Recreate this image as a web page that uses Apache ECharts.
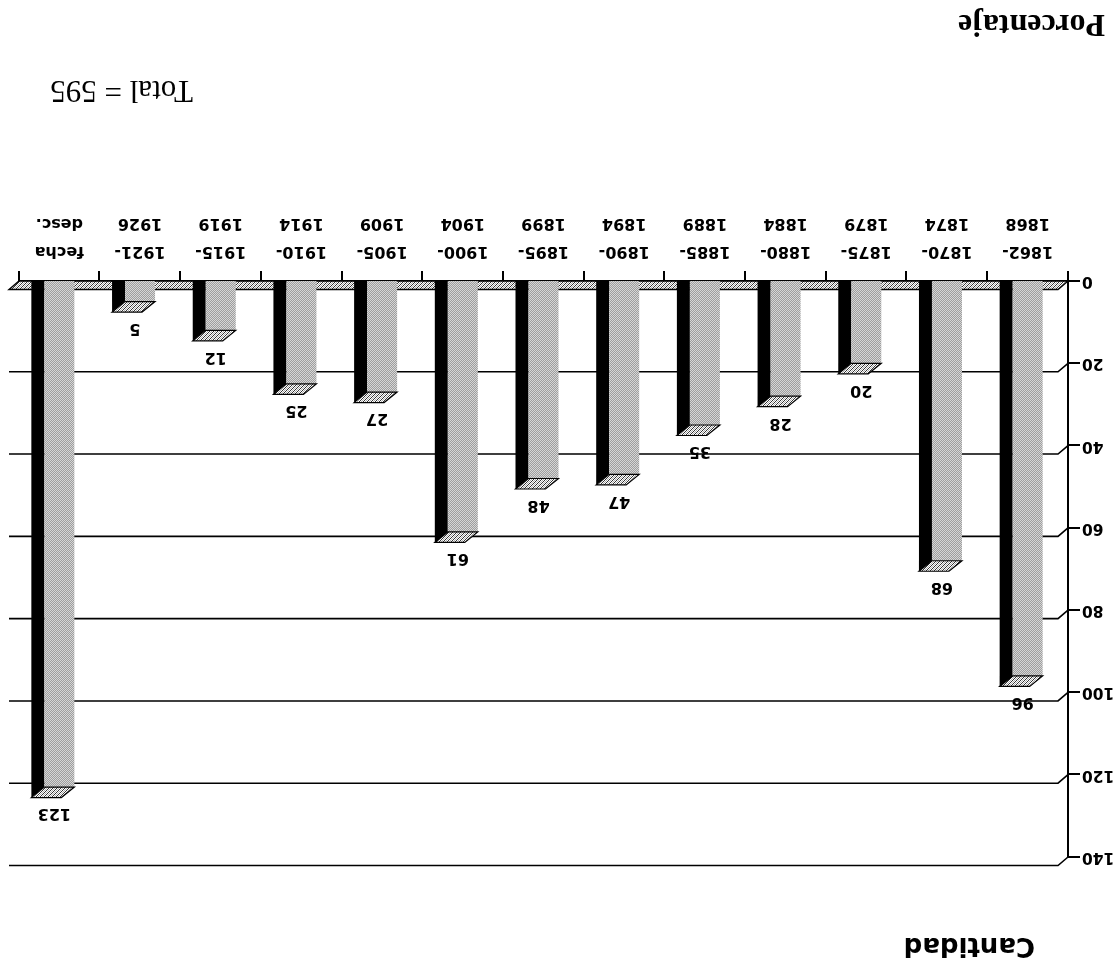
<!DOCTYPE html>
<html><head><meta charset="utf-8">
<script src="https://cdn.jsdelivr.net/npm/echarts@6/dist/echarts.min.js"></script>
<style>html,body{margin:0;padding:0;background:#fff}#c{width:1120px;height:970px;transform:rotate(180deg);}</style>
</head><body><div id="c"></div>
<script>
const categories = ['1862-\n1868','1870-\n1874','1875-\n1879','1880-\n1884','1885-\n1889','1890-\n1894','1895-\n1899','1900-\n1904','1905-\n1909','1910-\n1914','1915-\n1919','1921-\n1926','fecha\ndesc.'];
const values = [96,68,20,28,35,47,48,61,27,25,12,5,123];
const yTicks = [0,20,40,60,80,100,120,140];
const axisTitle = 'Cantidad';
const cornerTitle = 'Porcentaje';
const totalText = 'Total = 595';

function makePattern(size, fn){
  const c=document.createElement('canvas'); c.width=c.height=size;
  const ctx=c.getContext('2d');
  for(let y=0;y<size;y++)for(let x=0;x<size;x++){ctx.fillStyle=fn(x,y);ctx.fillRect(x,y,1,1);}
  return {image:c, repeat:'repeat'};
}
const frontFill = makePattern(2,(x,y)=>((x+y)%2===0)?'#d6d6d6':'#9e9e9e');
const topFill = makePattern(4,(x,y)=>((x+y)%4===0)?'#333':(((x+y)%4===2)?'#aaa':'#fff'));

const GDX=10, GDY=8.5, BDX=13, BDY=10.5, HW=15;
const chart = echarts.init(document.getElementById('c'), null, {renderer:'canvas'});
chart.setOption({
  backgroundColor:'#fff',
  animation:false,
  grid:{left:52,right:19,top:113,bottom:281,containLabel:false,outerBoundsMode:'none'},
  xAxis:{type:'category',data:categories,boundaryGap:true,
    axisLine:{show:true,lineStyle:{color:'#000',width:2}},
    axisTick:{show:true,length:10,interval:0,lineStyle:{color:'#000',width:2}},
    axisLabel:{interval:0,margin:16,lineHeight:28,color:'#000',fontFamily:'DejaVu Sans',fontWeight:'bold',fontSize:16,hideOverlap:false},
    splitLine:{show:false}},
  yAxis:{type:'value',min:0,max:140,interval:20,
    axisLine:{show:true,lineStyle:{color:'#000',width:2}},
    axisTick:{show:true,length:12,lineStyle:{color:'#000',width:2}},
    axisLabel:{show:false},
    splitLine:{show:false}},
  graphic:[
    {type:'text',x:85,y:25,style:{text:axisTitle,font:'bold 26px "DejaVu Sans"',fill:'#000',align:'left',verticalAlign:'middle'}},
    {type:'text',x:15,y:947,style:{text:cornerTitle,font:'bold 32px "Liberation Serif"',fill:'#000',align:'left',verticalAlign:'middle'}},
    {type:'text',x:927,y:880.5,style:{text:totalText,font:'31px "Liberation Serif"',fill:'#000',align:'left',verticalAlign:'middle'}}
  ],
  series:[
    {type:'custom',name:'grid',z:1,clip:false,silent:true,
     data:yTicks.map(t=>[0,t]),encode:{x:0,y:1},
     renderItem:function(params,api){
       const v=api.value(1); const p=api.coord([0,v]); const cs=params.coordSys;
       const y=p[1], x0=cs.x, x1=cs.x+cs.width;
       const children=[
         {type:'text',style:{text:String(v),x:x0-14,y:y,align:'right',verticalAlign:'middle',font:'bold 15.5px "DejaVu Sans"',fill:'#000'}}
       ];
       if(v>0) children.push({type:'polyline',shape:{points:[[x0,y],[x0+GDX,y-GDY],[x1+GDX,y-GDY]]},style:{stroke:'#000',lineWidth:1.6,fill:null}});
       return {type:'group',children:children};
     }},
    {type:'custom',name:'floor',z:2,clip:false,silent:true,
     data:[[0,0]],encode:{x:0,y:1},
     renderItem:function(params,api){
       const p=api.coord([0,0]); const cs=params.coordSys;
       const y=p[1], x0=cs.x, x1=cs.x+cs.width;
       return {type:'polygon',shape:{points:[[x0,y],[x1,y],[x1+GDX,y-GDY],[x0+GDX,y-GDY]]},style:{fill:topFill,stroke:'#000',lineWidth:1.4}};
     }},
    {type:'custom',name:'Cantidad',z:3,clip:false,
     data:values.map((v,i)=>[i,v]),encode:{x:0,y:1},
     renderItem:function(params,api){
       const i=api.value(0), v=api.value(1);
       const top=api.coord([i,v]), base=api.coord([i,0]);
       const xl=top[0]-HW, xr=top[0]+HW, yt=top[1], yb=base[1];
       return {type:'group',children:[
         {type:'polygon',shape:{points:[[xr,yb],[xr,yt],[xr+BDX,yt-BDY],[xr+BDX,yb]]},style:{fill:'#000'}},
         {type:'rect',shape:{x:xl,y:yt,width:2*HW,height:yb-yt},style:{fill:frontFill}},
         {type:'polygon',shape:{points:[[xl,yt],[xr,yt],[xr+BDX,yt-BDY],[xl+BDX,yt-BDY]]},style:{fill:topFill,stroke:'#000',lineWidth:1.2}},
         {type:'text',style:{text:String(v),x:top[0]+5,y:yt-BDY-16,align:'center',verticalAlign:'middle',font:'bold 16px "DejaVu Sans"',fill:'#000'}}
       ]};
     }}
  ]
});
</script></body></html>
